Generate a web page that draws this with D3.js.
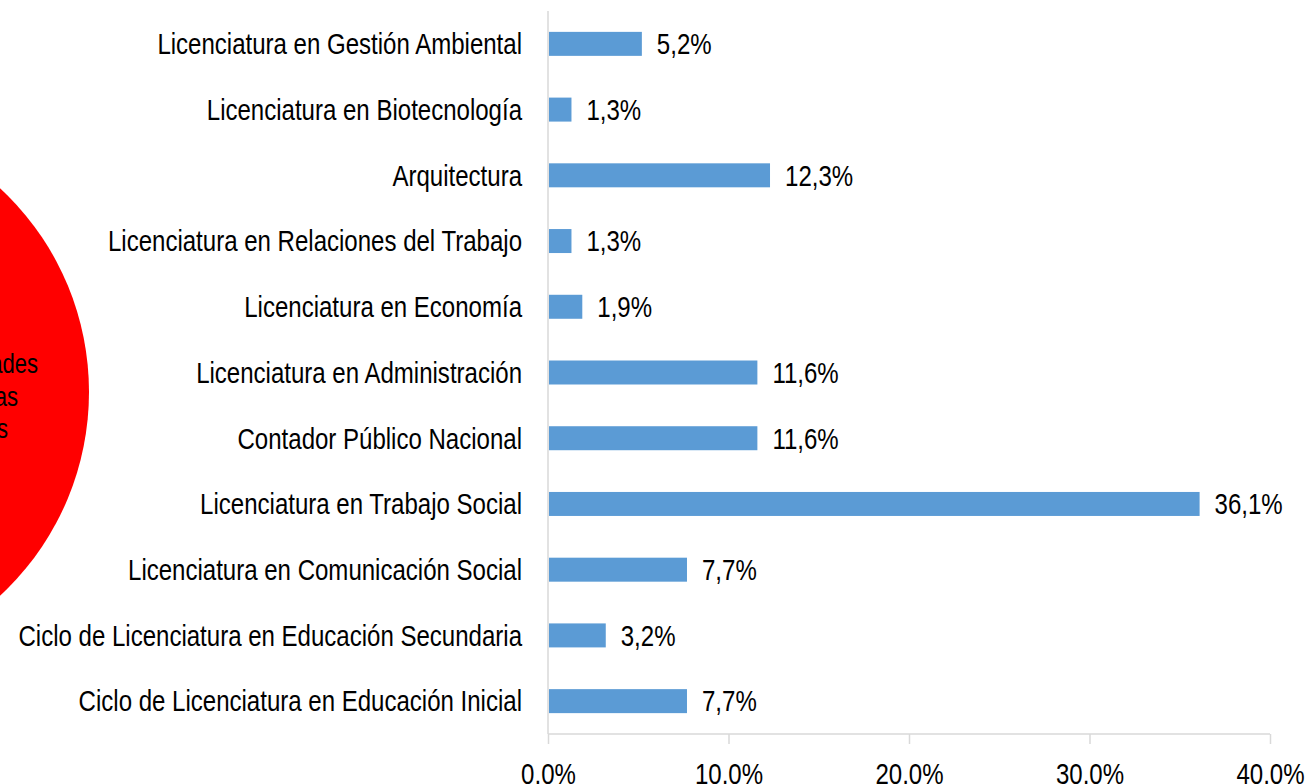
<!DOCTYPE html>
<html><head><meta charset="utf-8">
<script src="https://cdn.jsdelivr.net/npm/d3@7"></script>
<style>
body{margin:0;background:#fff;overflow:hidden}
svg{display:block}
text{font-family:"Liberation Sans",Arial,sans-serif;fill:#000}
</style></head><body>
<svg id="chart" width="1309" height="784"></svg>
<script>
const categories = [
  "Licenciatura en Gestión Ambiental",
  "Licenciatura en Biotecnología",
  "Arquitectura",
  "Licenciatura en Relaciones del Trabajo",
  "Licenciatura en Economía",
  "Licenciatura en Administración",
  "Contador Público Nacional",
  "Licenciatura en Trabajo Social",
  "Licenciatura en Comunicación Social",
  "Ciclo de Licenciatura en Educación Secundaria",
  "Ciclo de Licenciatura en Educación Inicial"
];
const values = [5.2, 1.3, 12.3, 1.3, 1.9, 11.6, 11.6, 36.1, 7.7, 3.2, 7.7];
const tickValues = [0, 10, 20, 30, 40];
const circleLines = ["Unidades", "Académicas", "Carreras"];

const SX = 0.815; // narrow font emulation
const FS = "29.5px";
const fmt = v => d3.format(".1f")(v).replace(".", ",") + "%";
const svg = d3.select("#chart");
const W = 1309, H = 784;
const m = {left: 548, right: 39, top: 11, bottom: 50};

// red circle on the left
const circ = svg.append("g");
circ.append("circle").attr("cx", -189).attr("cy", 392).attr("r", 278).attr("fill", "#ff0000");
circ.selectAll("text").data(circleLines).join("text")
  .attr("transform", (d, i) => `translate(${[38, 18, 8][i]},${373 + i * 32.5}) scale(${SX},1)`)
  .attr("text-anchor", "end")
  .style("font-size", "27px")
  .text(d => d);

const x = d3.scaleLinear().domain([0, 40]).range([m.left, W - m.right]);
const y = d3.scaleBand().domain(categories).range([m.top, H - m.bottom]).paddingInner(0.635).paddingOuter(0.3175);

// axis lines
svg.append("line").attr("x1", x(0)).attr("x2", x(0)).attr("y1", m.top).attr("y2", H - m.bottom)
  .attr("stroke", "#d9d9d9").attr("stroke-width", 1.5);
const xAxis = svg.append("g").attr("transform", `translate(0,${H - m.bottom})`)
  .call(d3.axisBottom(x).tickValues(tickValues).tickSize(10).tickFormat(fmt).tickPadding(20));
xAxis.select(".domain").attr("stroke", "#d9d9d9").attr("stroke-width", 1.5).attr("d", `M${x(0)},0H${x(40)}`);
xAxis.selectAll(".tick line").attr("stroke", "#d9d9d9").attr("stroke-width", 1.5);
xAxis.selectAll(".tick text").style("font-size", FS).attr("fill", "#000").attr("font-family", null)
  .attr("y", null).attr("dy", null)
  .attr("transform", `translate(0,50) scale(${SX},1)`);

// bars
svg.selectAll("rect.bar").data(values).join("rect").attr("class", "bar")
  .attr("x", x(0) + 1).attr("y", (d, i) => y(categories[i]))
  .attr("width", d => x(d) - x(0) - 1).attr("height", y.bandwidth())
  .attr("fill", "#5b9bd5");

// category labels
svg.selectAll("text.cat").data(categories).join("text").attr("class", "cat")
  .attr("transform", d => `translate(${x(0) - 26},${y(d) + y.bandwidth() / 2}) scale(${SX},1)`)
  .attr("dy", "0.35em").attr("text-anchor", "end").style("font-size", FS)
  .text(d => d);

// value labels
svg.selectAll("text.val").data(values).join("text").attr("class", "val")
  .attr("transform", (d, i) => `translate(${x(d) + 15},${y(categories[i]) + y.bandwidth() / 2}) scale(${SX},1)`)
  .attr("dy", "0.35em").style("font-size", FS)
  .text(d => fmt(d));
</script></body></html>
